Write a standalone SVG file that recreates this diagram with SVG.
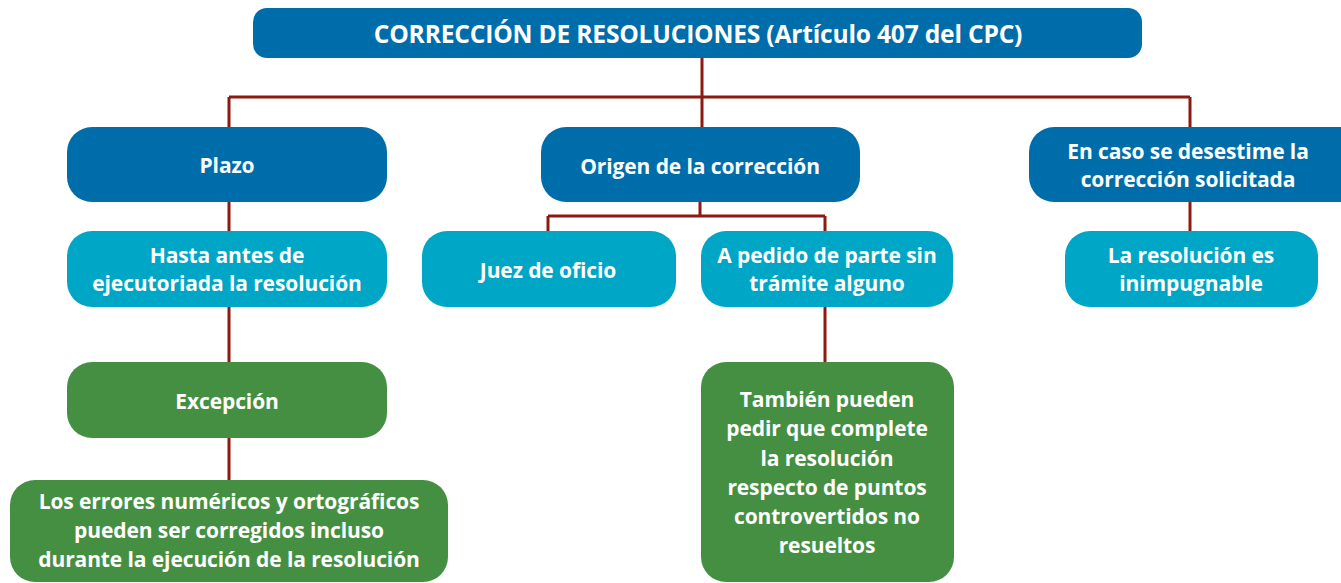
<svg xmlns="http://www.w3.org/2000/svg" width="1341" height="583" viewBox="0 0 1341 583">
<style>
.n1{fill:#006dab}
.n2{fill:#00a6c6}
.n3{fill:#458f42}
.t{font-family:"Open Sans","Liberation Sans",sans-serif;font-weight:700;fill:#fff;text-anchor:middle;font-size:21px;letter-spacing:-0.1px}
.tt{font-size:24.6px;letter-spacing:-0.2px}
.c{stroke:#8c1a12;stroke-width:3;fill:none}
</style>
<rect width="1341" height="583" fill="#fff"/>
<g id="connectors">
<path class="c" d="M702 58V127M229 97H1190M229 97V127M1190 97V127"/>
<path class="c" d="M229 202V231M229 307V362M229 438V480"/>
<path class="c" d="M700 202V216M548 216H825M548 216V231M825 216V231M825 307V362"/>
<path class="c" d="M1190 202V231"/>
</g>
<g id="title"><rect class="n1" x="253" y="8" width="889" height="50" rx="14"/><text class="t tt" x="698" y="43">CORRECCIÓN DE RESOLUCIONES (Artículo 407 del CPC)</text></g>
<g id="plazo"><rect class="n1" x="67" y="127" width="320" height="75" rx="25"/><text class="t" x="227" y="173">Plazo</text></g>
<g id="hasta"><rect class="n2" x="67" y="231" width="320" height="76" rx="25"/><text class="t" x="227" y="263">Hasta antes de</text><text class="t" x="227" y="291">ejecutoriada la resolución</text></g>
<g id="excepcion"><rect class="n3" x="67" y="362" width="320" height="76" rx="25"/><text class="t" x="227" y="409">Excepción</text></g>
<g id="errores"><rect class="n3" x="10" y="480" width="438" height="102" rx="25"/><text class="t" x="229" y="509">Los errores numéricos y ortográficos</text><text class="t" x="229" y="538">pueden ser corregidos incluso</text><text class="t" x="229" y="567">durante la ejecución de la resolución</text></g>
<g id="origen"><rect class="n1" x="541" y="127" width="319" height="75" rx="25"/><text class="t" x="700" y="174">Origen de la corrección</text></g>
<g id="juez"><rect class="n2" x="422" y="231" width="254" height="76" rx="25"/><text class="t" x="548" y="278">Juez de oficio</text></g>
<g id="pedido"><rect class="n2" x="701" y="231" width="252" height="76" rx="25"/><text class="t" x="827" y="263">A pedido de parte sin</text><text class="t" x="827" y="291">trámite alguno</text></g>
<g id="tambien"><rect class="n3" x="701" y="362" width="253" height="220" rx="25"/><text class="t" x="827" y="407">También pueden</text><text class="t" x="827" y="436">pedir que complete</text><text class="t" x="827" y="466">la resolución</text><text class="t" x="827" y="495">respecto de puntos</text><text class="t" x="827" y="524">controvertidos no</text><text class="t" x="827" y="553">resueltos</text></g>
<g id="desestime"><rect class="n1" x="1029" y="127" width="340" height="75" rx="25"/><text class="t" x="1188" y="159">En caso se desestime la</text><text class="t" x="1188" y="187">corrección solicitada</text></g>
<g id="inimpugnable"><rect class="n2" x="1065" y="231" width="253" height="76" rx="25"/><text class="t" x="1191" y="263">La resolución es</text><text class="t" x="1191" y="291">inimpugnable</text></g>
</svg>
